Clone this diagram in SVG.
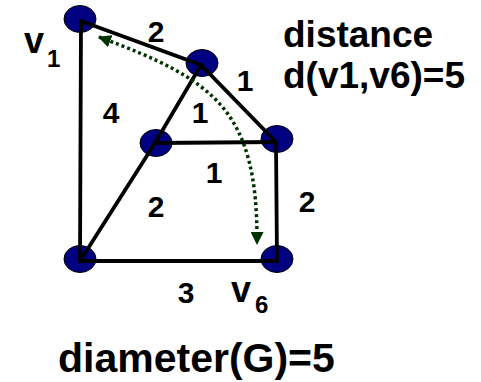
<svg xmlns="http://www.w3.org/2000/svg" width="481" height="382" viewBox="0 0 481 382">
<style>
.node{fill:#000080;stroke:#000;stroke-width:1}
.edge{fill:none;stroke:#000;stroke-width:3.8;stroke-linejoin:miter}
.path{fill:none;stroke:#003300;stroke-width:3.5;stroke-dasharray:3 3}
text{font-family:"Liberation Sans",Arial,sans-serif;font-weight:bold;fill:#000}
.lbl{font-size:30px;text-anchor:middle}
.v{font-size:36px}
.sub{font-size:24px}
</style>
<defs>
<marker id="ah" viewBox="0 0 13 13" refX="12" refY="6.5" markerWidth="13" markerHeight="13" markerUnits="userSpaceOnUse" orient="auto-start-reverse">
<path d="M0,0 L13,6.5 L0,13 Z" fill="#003300"/>
</marker>
</defs>
<rect width="481" height="382" fill="#fff"/>
<g id="v1"><ellipse class="node" cx="80" cy="19" rx="16" ry="13.5"/><text class="v" x="24" y="53">v</text><text class="sub" x="47" y="67">1</text></g>
<g id="v2"><ellipse class="node" cx="202" cy="63" rx="16" ry="13.5"/></g>
<g id="v3"><ellipse class="node" cx="156" cy="143" rx="16" ry="13.5"/></g>
<g id="v4"><ellipse class="node" cx="277" cy="139" rx="16" ry="13.5"/></g>
<g id="v5"><ellipse class="node" cx="80" cy="259" rx="16" ry="13.5"/></g>
<g id="v6"><ellipse class="node" cx="277" cy="259" rx="16" ry="13.5"/><text class="v" x="231" y="302">v</text><text class="sub" x="255" y="313">6</text></g>
<g id="connectors">
<path class="edge" d="M81,21 L201,65 L276,142 L277,261 L80,261 Z"/>
<path class="edge" d="M201,65 L155,143 L80,261"/>
<path class="edge" d="M155,143 L276,142"/>
<path class="path" d="M99,37 C215,80 258,110 257,244" marker-start="url(#ah)" marker-end="url(#ah)"/>
<text class="lbl" x="156" y="42">2</text>
<text class="lbl" x="245" y="91">1</text>
<text class="lbl" x="111" y="123">4</text>
<text class="lbl" x="200" y="123">1</text>
<text class="lbl" x="214" y="183">1</text>
<text class="lbl" x="156" y="217">2</text>
<text class="lbl" x="307" y="212">2</text>
<text class="lbl" x="186" y="303">3</text>
</g>
<text style="font-size:37px" x="283" y="47">distance</text>
<text style="font-size:37px" x="283" y="88">d(v1,v6)=5</text>
<text style="font-size:41px" x="58" y="372">diameter(G)=5</text>
</svg>
